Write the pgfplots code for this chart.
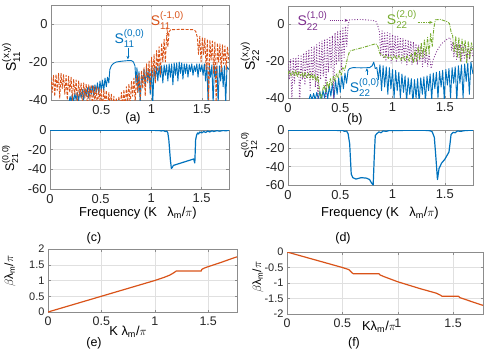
\documentclass[border=0pt]{standalone}
\usepackage{pgfplots}
\pgfplotsset{compat=1.18}
\usepackage{amsmath}
\usepackage{fontspec}
\setmainfont{Liberation Sans}
\usetikzlibrary{arrows.meta}
\definecolor{mblue}{RGB}{0,114,189}
\definecolor{morange}{RGB}{217,83,25}
\definecolor{mpurple}{RGB}{126,47,142}
\definecolor{mgreen}{RGB}{119,172,48}
\newcommand{\fs}[1]{\fontsize{#1}{#1}\selectfont}
\newcommand{\Sl}[2]{$\text{S}^{\text{#1}}_{\text{#2}}$}
\pgfplotsset{mat/.style={scale only axis, anchor=south west,
  axis line style={black!45}, tick style={black!45,line width=0.4pt},
  major tick length=2.5bp, tick align=inside, grid=major,
  grid style={black!12,line width=0.4pt},
  xticklabel style={font=\fs{13},text=black!85,yshift=-1.5bp},
  yticklabel style={font=\fs{13},text=black!85},
  /pgf/number format/assume math mode=true,
  xmin=0, xmax=1.77, every axis plot/.append style={line join=round}}}
\tikzset{arr/.style={-{Stealth[length=3.5bp,width=3bp]},line width=0.7bp}}
\begin{document}
\begin{tikzpicture}
\useasboundingbox (0,0) rectangle (485bp,-357bp);
% (a)
\begin{axis}[mat, at={(51bp,-100bp)}, width=178bp, height=95bp, ymin=-40, ymax=10, ytick={-40,-20,0}, xtick={0.5,1,1.5}]
\addplot[mblue, line width=0.9bp] coordinates {
(0.180,-41)(0.190,-38)(0.200,-41)(0.212,-37)(0.225,-41)(0.237,-36.5)(0.250,-40)(0.262,-36)(0.275,-40.5)(0.287,-35)
(0.300,-39)(0.312,-34.5)(0.325,-40)(0.337,-34)(0.350,-38)(0.362,-33.5)(0.375,-39)(0.387,-33)(0.400,-37)(0.412,-32.5)
(0.425,-38)(0.437,-32)(0.450,-36)(0.462,-31)(0.475,-37)(0.487,-30)(0.500,-35)(0.512,-29.5)(0.525,-35)(0.537,-28.5)
(0.550,-33)(0.562,-28)(0.575,-31)(0.585,-24)(0.600,-22)(0.620,-20.8)(0.650,-20)(0.700,-19.6)(0.760,-19.3)(0.800,-19.3)
(0.820,-20)(0.835,-22)(0.845,-31)(0.855,-23)(0.865,-36)(0.875,-25)(0.887,-42)(0.900,-27)(0.912,-30)(0.925,-24)
(0.937,-33)(0.950,-23)(0.962,-30)(0.975,-24)(0.987,-37)(1.000,-23)(1.012,-42)(1.025,-23)(1.037,-29)(1.050,-22.5)
(1.062,-30)(1.075,-22)(1.087,-28)(1.100,-22)(1.112,-31)(1.125,-21.5)(1.137,-27)(1.150,-21.5)(1.162,-30)(1.175,-21)
(1.187,-28)(1.200,-21)(1.212,-32)(1.225,-20.5)(1.237,-27)(1.250,-20.5)(1.262,-30)(1.275,-20)(1.287,-26)(1.300,-20.5)
(1.312,-29)(1.325,-21)(1.337,-26)(1.350,-21)(1.362,-28)(1.375,-21.5)(1.387,-25)(1.400,-21)(1.412,-27)(1.425,-22)
(1.437,-25)(1.450,-21)(1.462,-28)(1.475,-21)(1.487,-25)(1.500,-21.5)(1.512,-27)(1.525,-21)(1.537,-30)(1.550,-21.5)
(1.562,-42)(1.575,-22)(1.587,-28)(1.600,-21.5)(1.612,-42)(1.625,-22)(1.637,-29)(1.650,-22)(1.662,-42)(1.675,-22)
(1.687,-30)(1.700,-22.5)(1.712,-33)(1.725,-22)(1.737,-42)(1.750,-22.5)(1.770,-24)};
\addplot[morange, line width=0.9bp, dash pattern=on 3bp off 1.5bp] coordinates {
(0.000,-28)(0.012,-36)(0.025,-27)(0.037,-38)(0.050,-26.5)(0.062,-35)(0.075,-26)(0.087,-39)(0.100,-26)(0.112,-34)
(0.125,-26.5)(0.137,-37)(0.150,-27)(0.162,-40)(0.175,-27.5)(0.187,-36)(0.200,-28)(0.212,-41)(0.225,-29)(0.237,-37)
(0.250,-29.5)(0.262,-42)(0.275,-30)(0.287,-38)(0.300,-31)(0.312,-43)(0.325,-31)(0.337,-39)(0.350,-31.5)(0.362,-44)
(0.375,-32)(0.387,-40)(0.400,-32)(0.412,-45)(0.425,-32.5)(0.437,-41)(0.450,-33)(0.462,-45)(0.475,-33.5)(0.487,-41)
(0.500,-34)(0.512,-46)(0.525,-34.5)(0.537,-42)(0.550,-35)(0.562,-46)(0.575,-36)(0.587,-43)(0.600,-37)(0.612,-47)
(0.625,-38)(0.637,-45)(0.650,-39)(0.662,-48)(0.675,-38)(0.687,-46)(0.700,-36)(0.712,-44)(0.725,-34.5)(0.737,-45)
(0.750,-33)(0.762,-41)(0.775,-31.5)(0.787,-44)(0.800,-30)(0.812,-38)(0.825,-28.5)(0.837,-42)(0.850,-27)(0.862,-36)
(0.875,-26)(0.887,-40)(0.900,-24.5)(0.912,-34)(0.925,-23)(0.937,-38)(0.950,-21)(0.962,-31)(0.975,-19.5)(0.987,-35)
(1.000,-17.5)(1.012,-28)(1.025,-16)(1.037,-31)(1.050,-14)(1.062,-25)(1.075,-12)(1.087,-27)(1.100,-10)(1.112,-20)
(1.125,-8)(1.137,-20)(1.150,-6)(1.162,-12)(1.175,-4)(1.190,-3)(1.300,-2.8)(1.420,-3)(1.440,-4)(1.455,-7)
(1.467,-16)(1.480,-6.5)(1.492,-20)(1.505,-7)(1.517,-16)(1.530,-7.5)(1.542,-24)(1.555,-8)(1.567,-40)(1.580,-8.5)
(1.592,-19)(1.605,-9)(1.617,-26)(1.630,-9.5)(1.642,-42)(1.655,-10)(1.667,-20)(1.680,-10.5)(1.692,-25)(1.705,-11)
(1.717,-21)(1.730,-11.5)(1.742,-24)(1.755,-12)(1.770,-20)};
\node[mblue, anchor=south west, inner sep=0pt, font=\fs{14}] at (axis cs:0.63,-12.3) {\Sl{(0,0)}{11}};
\draw[mblue, arr] (axis cs:0.765,-12.5) -- (axis cs:0.765,-18.6);
\node[morange, anchor=south west, inner sep=0pt, font=\fs{14}] at (axis cs:0.99,-3.0) {\Sl{(-1,0)}{11}};
\draw[morange, arr] (axis cs:1.15,-1.8) -- (axis cs:1.165,-6.5);
\end{axis}
% (b)
\begin{axis}[mat, at={(288bp,-98bp)}, width=185bp, height=92bp, ymin=-40, ymax=10, ytick={-40,-20,0}, xtick={0,0.5,1,1.5}]
\addplot[mblue, line width=0.9bp] coordinates {
(0.200,-41)(0.215,-38)(0.230,-41)(0.245,-37.5)(0.260,-41)(0.275,-37)(0.290,-40.5)(0.305,-36.5)(0.320,-41)(0.335,-36)
(0.350,-40)(0.365,-34.5)(0.380,-40.5)(0.395,-33.5)(0.410,-39)(0.425,-32)(0.440,-40)(0.455,-30.5)(0.470,-38)(0.485,-29)
(0.500,-37)(0.515,-28)(0.530,-35)(0.545,-26.5)(0.560,-32)(0.575,-25)(0.590,-24)(0.620,-23.5)(0.700,-23.6)(0.780,-23.5)
(0.805,-22.5)(0.820,-20.5)(0.835,-24)(0.850,-23.5)(0.865,-30)(0.880,-22)(0.895,-36)(0.910,-22.5)(0.925,-34)(0.940,-23)
(0.955,-38)(0.970,-23.5)(0.985,-35)(1.000,-24.5)(1.015,-40)(1.030,-25)(1.045,-36)(1.060,-26)(1.075,-40)(1.090,-27)
(1.105,-37)(1.120,-28)(1.135,-42)(1.150,-29)(1.165,-38)(1.180,-29.5)(1.195,-43)(1.210,-30)(1.225,-40)(1.240,-29.5)
(1.255,-43)(1.270,-29)(1.285,-38)(1.300,-28.5)(1.315,-42)(1.330,-28)(1.345,-36)(1.360,-27)(1.375,-41)(1.390,-26.5)
(1.405,-35)(1.420,-26)(1.435,-40)(1.450,-25.5)(1.465,-34)(1.480,-25)(1.495,-41)(1.510,-24.5)(1.525,-33)(1.540,-24)
(1.555,-40)(1.570,-23.5)(1.585,-32)(1.600,-23)(1.615,-42)(1.630,-22.5)(1.645,-32)(1.660,-22)(1.675,-40)(1.690,-21.5)
(1.705,-31)(1.720,-21)(1.735,-38)(1.750,-20.5)(1.770,-27)};
\addplot[mpurple, line width=0.9bp, dash pattern=on 0.9bp off 1.8bp] coordinates {
(0.000,-20)(0.012,-30)(0.025,-19)(0.037,-42)(0.050,-18.5)(0.062,-32)(0.075,-18)(0.087,-28)(0.100,-17)(0.112,-45)
(0.125,-16.5)(0.137,-30)(0.150,-15.5)(0.162,-33)(0.175,-14.5)(0.187,-29)(0.200,-13.5)(0.212,-36)(0.225,-12.5)(0.237,-30)
(0.250,-12)(0.262,-34)(0.275,-11)(0.287,-45)(0.300,-10)(0.312,-30)(0.325,-9)(0.337,-28)(0.350,-8.5)(0.362,-45)
(0.375,-7.5)(0.387,-26)(0.400,-6.5)(0.412,-24)(0.425,-6)(0.437,-42)(0.450,-4.6)(0.462,-22)(0.475,-4)(0.487,-20)
(0.500,-3)(0.512,-25)(0.525,-2)(0.537,-18)(0.550,-1)(0.562,-12)(0.575,0)(0.590,2.5)(0.700,2.7)(0.800,2.2)
(0.840,1.8)(0.860,-1)(0.875,-4)(0.887,-17)(0.900,-3.5)(0.912,-18)(0.925,-4)(0.937,-20)(0.950,-4.5)(0.962,-18)
(0.975,-5)(0.987,-21)(1.000,-5.5)(1.012,-18)(1.025,-6)(1.037,-20)(1.050,-6.5)(1.062,-18)(1.075,-7)(1.087,-21)
(1.100,-7.5)(1.112,-19)(1.125,-8)(1.137,-22)(1.150,-8.5)(1.162,-19)(1.175,-9)(1.187,-22)(1.200,-9.5)(1.212,-20)
(1.225,-10.5)(1.237,-22)(1.250,-11)(1.262,-20)(1.275,-12)(1.287,-23)(1.300,-13)(1.312,-21)(1.325,-14)(1.337,-23)
(1.350,-16)(1.370,-24)(1.390,-19)(1.420,-15)(1.450,-12)(1.480,-10)(1.510,-8.5)(1.540,-7.5)(1.555,-7.3)(1.565,-14)
(1.575,-10)(1.587,-18)(1.600,-10)(1.612,-19)(1.625,-10.5)(1.637,-18)(1.650,-11)(1.662,-20)(1.675,-11)(1.687,-19)
(1.700,-11.5)(1.712,-20)(1.725,-12)(1.737,-19)(1.750,-12)(1.770,-18)};
\addplot[mgreen, line width=0.9bp, dash pattern=on 3.5bp off 1.2bp on 0.9bp off 1.2bp] coordinates {
(0.000,-27)(0.015,-25)(0.030,-28)(0.045,-25.5)(0.060,-28)(0.075,-25)(0.090,-28.5)(0.105,-25.5)(0.120,-28)(0.135,-26)
(0.150,-29)(0.165,-26)(0.180,-29)(0.195,-26.5)(0.210,-29.5)(0.225,-26.5)(0.240,-30)(0.255,-27)(0.270,-31)(0.285,-28)
(0.300,-35)(0.315,-42)(0.330,-36)(0.345,-33)(0.360,-37)(0.375,-31)(0.390,-35)(0.405,-29.5)(0.420,-33)(0.435,-28)
(0.450,-31)(0.465,-26.5)(0.480,-29)(0.495,-25)(0.510,-27.5)(0.525,-23.5)(0.540,-25)(0.555,-22)(0.570,-18)(0.590,-14.5)
(0.620,-14)(0.700,-12.8)(0.780,-11.5)(0.840,-10.5)(0.860,-12)(0.880,-16)(0.900,-16.5)(0.920,-18)(0.940,-16.5)(0.960,-18.5)
(0.980,-17)(1.000,-19)(1.020,-17)(1.040,-19)(1.060,-17)(1.080,-19.5)(1.100,-17)(1.120,-20)(1.140,-17)(1.160,-20)
(1.180,-16)(1.200,-21)(1.215,-14)(1.230,-20)(1.245,-12)(1.260,-19)(1.275,-10)(1.290,-18)(1.305,-8.5)(1.320,-17)
(1.335,-7)(1.350,-16)(1.365,-5)(1.380,-12)(1.395,-2)(1.410,2.5)(1.460,2.7)(1.520,1.5)(1.545,0.5)(1.560,-4)
(1.575,-6)(1.590,-15)(1.605,-6.5)(1.620,-18)(1.635,-7)(1.650,-20)(1.665,-8)(1.680,-16)(1.695,-8.5)(1.710,-21)
(1.725,-9)(1.740,-18)(1.755,-10)(1.770,-14)};
\node[mpurple, anchor=south west, inner sep=0pt, font=\fs{14}] at (axis cs:0.09,-3.2) {\Sl{(1,0)}{22}};
\draw[mpurple, arr, dash pattern=on 0.9bp off 1.2bp] (axis cs:0.40,2.2) -- (axis cs:0.575,2.2);
\node[mgreen, anchor=south west, inner sep=0pt, font=\fs{14}] at (axis cs:0.945,-2.3) {\Sl{(2,0)}{22}};
\draw[mgreen, arr, dash pattern=on 2.5bp off 1bp on 0.8bp off 1bp] (axis cs:1.24,1.1) -- (axis cs:1.385,1.1);
\node[mblue, anchor=south west, inner sep=0pt, font=\fs{14}] at (axis cs:0.59,-39.5) {\Sl{(0,0)}{22}};
\draw[mblue, arr] (axis cs:0.755,-27.5) -- (axis cs:0.755,-23.8);
\end{axis}
% (c)
\begin{axis}[mat, at={(50bp,-189bp)}, width=179bp, height=59bp, ymin=-60, ymax=0, ytick={-60,-40,-20,0}, xtick={0,0.5,1,1.5}]
\addplot[mblue, line width=1.2bp] coordinates {
(0,-0.2)(0.5,-0.2)(1.0,-0.3)(1.08,-0.5)(1.1,-1)(1.12,-0.5)(1.14,-1.5)(1.155,-1)(1.165,-3)(1.175,-10)
(1.19,-30)(1.2,-39)(1.21,-38)(1.22,-36)(1.42,-29.5)(1.432,-33.5)(1.44,-10)(1.45,-5)(1.46,-3)(1.47,-4)
(1.48,-2)(1.5,-3)(1.52,-1.5)(1.54,-2.5)(1.56,-1)(1.58,-2)(1.6,-0.8)(1.62,-1.5)(1.65,-0.7)(1.68,-1.2)
(1.71,-0.5)(1.74,-0.8)(1.77,-0.3)};
\end{axis}
% (d)
\begin{axis}[mat, at={(288bp,-185bp)}, width=185bp, height=55bp, ymin=-60, ymax=0, ytick={-60,-40,-20,0}, xtick={0,0.5,1,1.5}]
\addplot[mblue, line width=1.2bp] coordinates {
(0,-0.2)(0.45,-0.3)(0.5,-0.7)(0.52,-0.3)(0.54,-1.5)(0.56,-1)(0.575,-4)(0.59,-15)(0.605,-48)(0.62,-52)
(0.65,-53.5)(0.7,-52)(0.75,-52.5)(0.78,-54)(0.8,-58)(0.815,-60)(0.825,-30)(0.835,-6)(0.85,-4)(0.87,-2)
(0.89,-3)(0.91,-1)(0.94,-1.5)(0.97,-0.5)(1.0,-0.5)(1.3,-0.3)(1.36,-0.8)(1.38,-2)(1.4,-8)(1.415,-30)
(1.43,-54)(1.445,-42)(1.47,-36)(1.5,-32)(1.52,-28)(1.54,-24)(1.55,-15)(1.56,-5)(1.58,-2.5)(1.6,-3)
(1.62,-1)(1.65,-1.5)(1.7,-0.5)(1.77,-0.3)};
\end{axis}
% (e)
\begin{axis}[mat, at={(48bp,-312bp)}, width=189bp, height=63bp, ymin=0, ymax=2, ytick={0,0.5,1,1.5,2}, xtick={0,0.5,1,1.5}, xticklabel style={font=\fs{12.5}}, yticklabel style={font=\fs{11}}]
\addplot[morange, line width=1.2bp] coordinates {
(0,0)(0.5,0.5)(1.0,1.0)(1.08,1.09)(1.14,1.17)(1.18,1.25)(1.2,1.3)(1.3,1.3)(1.435,1.3)(1.44,1.35)
(1.46,1.39)(1.5,1.44)(1.6,1.55)(1.75,1.73)(1.77,1.75)};
\end{axis}
% (f)
\begin{axis}[mat, at={(287bp,-314bp)}, width=196bp, height=62bp, ymin=-2, ymax=0, ytick={-2,-1.5,-1,-0.5,0}, xtick={0,0.5,1,1.5}, xticklabel style={font=\fs{12.5}}, yticklabel style={font=\fs{11}}]
\addplot[morange, line width=1.2bp] coordinates {
(0,0)(0.5,-0.5)(0.56,-0.57)(0.59,-0.68)(0.6,-0.7)(0.83,-0.7)(0.84,-0.74)(0.88,-0.8)(1.0,-0.96)(1.2,-1.18)
(1.35,-1.33)(1.39,-1.4)(1.4,-1.43)(1.55,-1.43)(1.56,-1.47)(1.75,-1.7)(1.77,-1.72)};
\end{axis}
% labels
\node[font=\fs{14}, rotate=90] at (11bp,-57bp) {\Sl{(x,y)}{11}};
\node[font=\fs{14}, rotate=90] at (250bp,-56bp) {\Sl{(x,y)}{22}};
\node[font=\fs{12.5}, rotate=90] at (10bp,-158bp) {\Sl{(0,0)}{21}};
\node[font=\fs{12.5}, rotate=90] at (249bp,-145bp) {\Sl{(0,0)}{12}};
\node[font=\fs{12}, rotate=90] at (10bp,-271bp) {$\beta$λ\textsubscript{m}/$\pi$};
\node[font=\fs{12}, rotate=90] at (258bp,-277bp) {$\beta$λ\textsubscript{m}/$\pi$};
\node[font=\fs{13}] at (138bp,-213bp) {Frequency (K\hspace{0.8em}λ\textsubscript{m}/$\pi$)};
\node[font=\fs{13}] at (380bp,-213bp) {Frequency (K\hspace{0.8em}λ\textsubscript{m}/$\pi$)};
\node[font=\fs{13}] at (128bp,-332bp) {K λ\textsubscript{m}/$\pi$};
\node[font=\fs{13}] at (379bp,-327bp) {Kλ\textsubscript{m}/$\pi$};
\node[font=\fs{12.5}] at (133bp,-118bp) {(a)};
\node[font=\fs{12.5}] at (355bp,-119bp) {(b)};
\node[font=\fs{12.5}] at (94bp,-238bp) {(c)};
\node[font=\fs{12.5}] at (343bp,-238bp) {(d)};
\node[font=\fs{12.5}] at (94bp,-343bp) {(e)};
\node[font=\fs{12.5}] at (354bp,-343bp) {(f)};
\end{tikzpicture}
\end{document}
